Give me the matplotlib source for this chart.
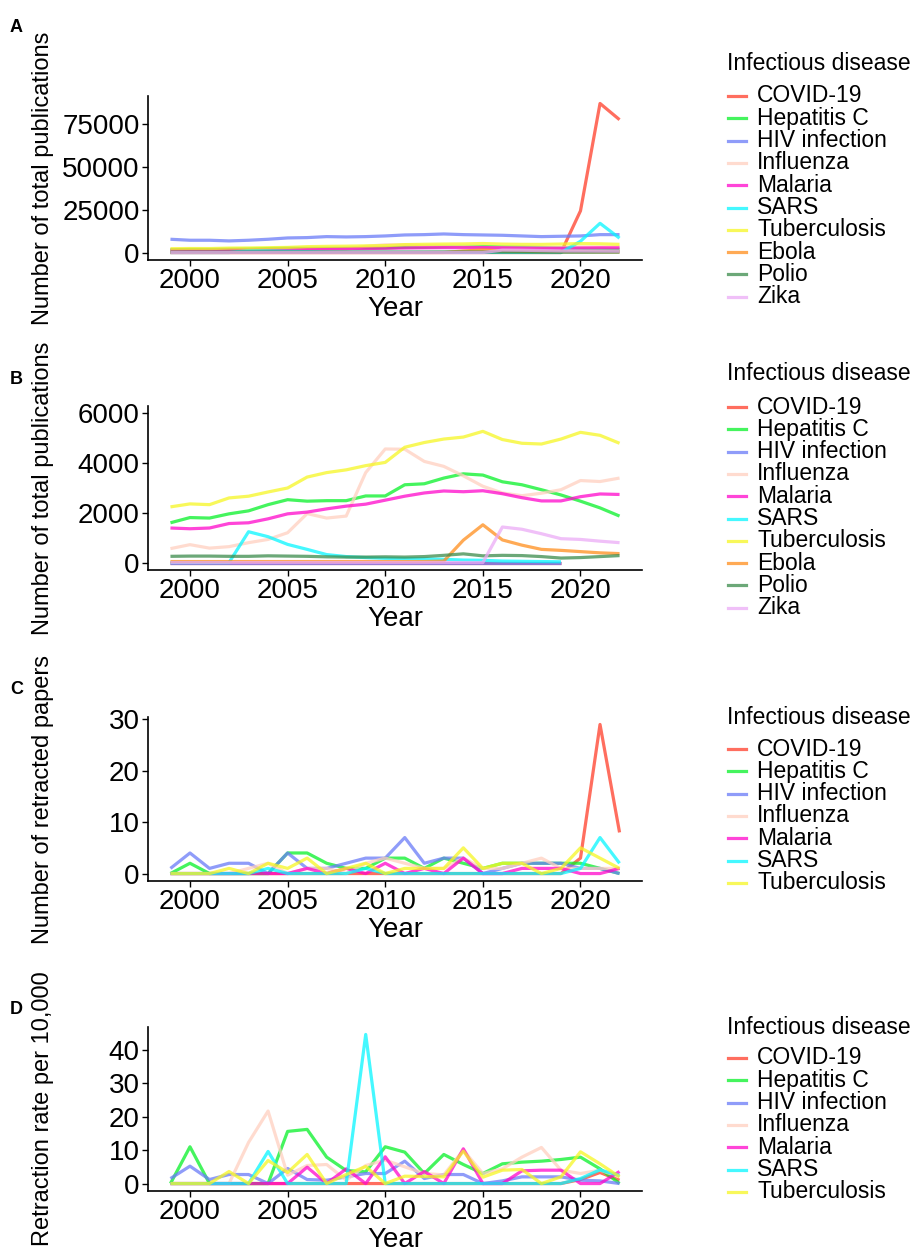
import numpy as np
import matplotlib
matplotlib.use("Agg")
import matplotlib.pyplot as plt
from matplotlib.lines import Line2D

plt.rcParams['font.family'] = ['Liberation Sans', 'DejaVu Sans']

W, H = 914, 1254

years = list(range(1999, 2023))
years_pre = list(range(1999, 2020))

diseases = ['COVID-19', 'Hepatitis C', 'HIV infection', 'Influenza', 'Malaria',
            'SARS', 'Tuberculosis', 'Ebola', 'Polio', 'Zika']
colors = ['#FF3E29', '#06F128', '#6A7BF8', '#FFD0C0', '#FF06CB',
          '#06F6FF', '#F6F623', '#FF8E1C', '#3B8B4B', '#EBABF6']

# publications (panel A uses full HIV / COVID / SARS series)
covid_pubs = [0] * 21 + [24400, 87200, 77700]
covid_pubs_pre = [0] * 21
hepc_pubs = [1600, 1810, 1790, 1960, 2080, 2330, 2530, 2470, 2490, 2490, 2680, 2680,
             3130, 3170, 3400, 3570, 3520, 3250, 3130, 2930, 2720, 2470, 2200, 1870]
hiv_pubs = [7770, 7190, 7190, 6800, 7190, 7770, 8540, 8740, 9320, 9130, 9320, 9710,
            10290, 10480, 10870, 10480, 10290, 10100, 9710, 9320, 9520, 9710, 10480, 10480]
hiv_pubs_pre = [0] * 21
flu_pubs = [560, 720, 580, 640, 800, 930, 1200, 1970, 1790, 1870, 3620, 4570,
            4560, 4070, 3870, 3490, 3070, 2800, 2690, 2790, 2930, 3300, 3260, 3400]
malaria_pubs = [1390, 1360, 1390, 1570, 1600, 1760, 1960, 2030, 2160, 2270, 2350, 2510,
                2670, 2800, 2880, 2850, 2890, 2770, 2610, 2480, 2480, 2650, 2760, 2740]
sars_pubs_pre = [0, 0, 0, 0, 1240, 1040, 730, 530, 320, 240, 200, 170,
                 160, 150, 130, 100, 90, 60, 50, 40, 30]
sars_pubs = sars_pubs_pre + [6600, 17100, 8400]
tb_pubs = [2240, 2360, 2330, 2600, 2670, 2840, 3000, 3440, 3620, 3730, 3900, 4030,
           4640, 4830, 4970, 5050, 5280, 4950, 4800, 4770, 4970, 5240, 5120, 4800]
ebola_pubs = [40, 40, 40, 40, 40, 40, 40, 40, 40, 40, 40, 40,
              40, 40, 60, 900, 1520, 910, 700, 530, 490, 440, 390, 360]
polio_pubs = [250, 260, 260, 250, 250, 270, 260, 250, 230, 220, 220, 230,
              220, 240, 290, 350, 270, 290, 280, 240, 180, 200, 240, 280]
zika_pubs = [0] * 17 + [1430, 1340, 1160, 960, 930, 860, 800]

# retracted papers
covid_ret = [0] * 21 + [3, 29, 8]
hepc_ret = [0, 2, 0, 0, 0, 0, 4, 4, 2, 1, 1, 3, 3, 1, 3, 2, 1, 2, 2, 2, 2, 2, 1, 0]
hiv_ret = [1, 4, 1, 2, 2, 0, 4, 1, 1, 2, 3, 3, 7, 2, 3, 3, 0, 1, 2, 2, 2, 1, 1, 0]
flu_ret = [0, 0, 0, 0, 1, 2, 0, 1, 1, 0, 2, 3, 2, 1, 1, 3, 1, 1, 2, 3, 1, 1, 1, 1]
malaria_ret = [0, 0, 0, 0, 0, 0, 0, 1, 0, 1, 0, 2, 0, 1, 0, 3, 0, 0, 1, 1, 1, 0, 0, 1]
sars_ret = [0, 0, 0, 0, 0, 1, 0, 0, 0, 0, 1, 0, 0, 0, 0, 0, 0, 0, 0, 0, 0, 1, 7, 2]
tb_ret = [0, 0, 0, 1, 0, 2, 1, 3, 0, 1, 2, 0, 1, 1, 1, 5, 1, 2, 2, 0, 1, 5, 3, 1]

# retraction rate per 10,000
covid_rate = [0] * 21 + [1.2, 3.3, 1.0]
hepc_rate = [0, 11.0, 0, 0, 0, 0, 15.6, 16.2, 7.9, 3.9, 3.5, 11.0,
             9.4, 3.0, 8.7, 5.7, 3.0, 5.9, 6.4, 6.7, 7.2, 7.9, 4.4, 0]
hiv_rate = [1.5, 5.2, 1.2, 2.7, 2.7, 0, 4.5, 1.2, 1.0, 2.0, 3.0, 3.0,
            6.7, 1.5, 2.7, 2.7, 0, 0.8, 2.0, 2.0, 2.0, 1.0, 0.8, 0]
flu_rate = [0, 0, 0, 0, 12.3, 21.7, 2.5, 5.4, 5.7, 1.0, 5.4, 7.0,
            5.0, 3.0, 2.6, 10.0, 3.0, 4.4, 7.9, 10.8, 4.0, 3.0, 4.0, 2.0]
malaria_rate = [0, 0, 0, 0, 0, 0, 0, 4.9, 0, 4.4, 0, 8.0,
                0, 3.6, 0, 10.4, 0, 0, 3.8, 4.0, 4.0, 0, 0, 3.6]
sars_rate = [0, 0, 0, 0, 0, 9.6, 0, 0, 0, 0, 44.6, 0,
             0, 0, 0, 0, 0, 0, 0, 0, 0, 1.5, 4.1, 2.4]
tb_rate = [0, 0, 0, 3.6, 0, 6.9, 3.3, 8.7, 0, 2.7, 5.1, 0,
           2.2, 2.1, 2.0, 9.7, 1.9, 4.0, 4.2, 0, 2.0, 9.5, 5.9, 2.0]

panel_a = [(years, covid_pubs), (years, hepc_pubs), (years, hiv_pubs), (years, flu_pubs),
           (years, malaria_pubs), (years, sars_pubs), (years, tb_pubs), (years, ebola_pubs),
           (years, polio_pubs), (years, zika_pubs)]
panel_b = [(years_pre, covid_pubs_pre), (years, hepc_pubs), (years_pre, hiv_pubs_pre),
           (years, flu_pubs), (years, malaria_pubs), (years_pre, sars_pubs_pre),
           (years, tb_pubs), (years, ebola_pubs), (years, polio_pubs), (years, zika_pubs)]
panel_c = [(years, covid_ret), (years, hepc_ret), (years, hiv_ret), (years, flu_ret),
           (years, malaria_ret), (years, sars_ret), (years, tb_ret)]
panel_d = [(years, covid_rate), (years, hepc_rate), (years, hiv_rate), (years, flu_rate),
           (years, malaria_rate), (years, sars_rate), (years, tb_rate)]

fig = plt.figure(figsize=(W / 100, H / 100), dpi=100)

# (series, y label, y ticks, axes bottom px, letter y px, legend title y px, first entry y px)
panels = [
    (panel_a, 'Number of total publications', [0, 25000, 50000, 75000], 260, 28, 64, 96, 'A'),
    (panel_b, 'Number of total publications', [0, 2000, 4000, 6000], 570, 380, 374, 407, 'B'),
    (panel_c, 'Number of retracted papers', [0, 10, 20, 30], 881, 690, 717, 749, 'C'),
    (panel_d, 'Retraction rate per 10,000', [0, 10, 20, 30, 40], 1191, 1010, 1027, 1058, 'D'),
]

for series, ylab, yticks, bot, let_y, leg_t, leg_0, letter in panels:
    ax = fig.add_axes([148 / W, 1 - bot / H, 494 / W, 164 / H])
    for (x, y), c in zip(series, colors):
        ax.plot(x, y, color=c, alpha=0.75, lw=2.3, solid_capstyle='butt')
    if letter == 'B':
        ax.set_ylim(-300, 6300)
    ax.set_yticks(yticks)
    ax.set_xticks([2000, 2005, 2010, 2015, 2020])
    ax.tick_params(labelsize=20, length=4, width=1, pad=2, colors='black')
    for s in ['top', 'right']:
        ax.spines[s].set_visible(False)
    for s in ['left', 'bottom']:
        ax.spines[s].set_linewidth(1.2)
    ax.set_xlabel('Year', fontsize=20, labelpad=1)
    ax.set_ylabel(ylab, fontsize=17)
    ax.yaxis.set_label_coords(-0.19, 0.5)

    fig.text(10 / W, 1 - let_y / H, letter, fontsize=13, fontweight='bold', va='center')

    fig.text(727 / W, 1 - leg_t / H, 'Infectious disease', fontsize=16.5, va='center')
    for i, c in enumerate(colors[:len(series)]):
        yy = 1 - (leg_0 + i * 22.3) / H
        fig.add_artist(Line2D([728 / W, 746 / W], [yy, yy], color=c, alpha=0.75, lw=2.3,
                              transform=fig.transFigure))
        fig.text(757 / W, yy, diseases[i], fontsize=16.5, va='center')

fig.savefig('out.png', dpi=100, facecolor='white')
